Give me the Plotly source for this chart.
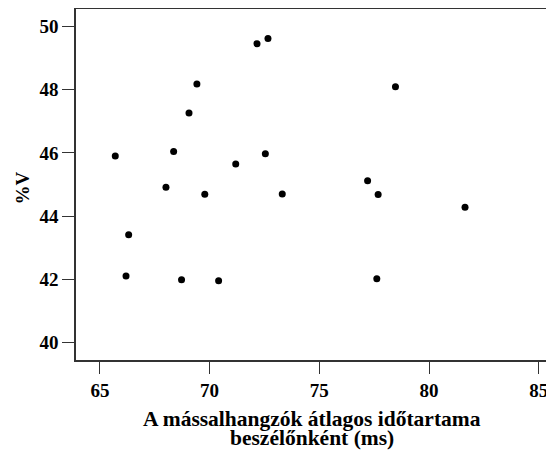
import plotly.graph_objects as go

x_vals = [65.70, 68.36, 68.01, 69.06, 69.42, 66.31, 66.19, 68.72, 72.16, 72.66,
          78.47, 72.54, 71.19, 69.78, 73.31, 77.20, 77.68, 70.41, 77.62, 81.64]
y_vals = [45.90, 46.04, 44.91, 47.26, 48.18, 43.41, 42.11, 41.99, 49.45, 49.62,
          48.09, 45.97, 45.65, 44.69, 44.70, 45.12, 44.68, 41.96, 42.02, 44.28]
x_ticks = [65, 70, 75, 80, 85]
y_ticks = [40, 42, 44, 46, 48, 50]
x_title_lines = ["A mássalhangzók átlagos időtartama", "beszélőnként (ms)"]
y_title = "%V"

font_family = "Liberation Serif"
tick_font = dict(family=font_family, size=19, color="black")
title_font = dict(family=font_family, size=21.5, color="black")

fig = go.Figure(go.Scatter(
    x=x_vals, y=y_vals, mode="markers",
    marker=dict(color="black", size=7),
    hoverinfo="x+y",
))

# the page body adds an 8px offset, so the figure is 8px smaller than the window
fig.update_layout(
    width=546, height=446,
    margin=dict(l=68, r=1, t=1, b=94),
    paper_bgcolor="white", plot_bgcolor="white",
    showlegend=False,
    font=dict(family=font_family, color="black"),
)
fig.update_xaxes(
    range=[63.91, 85.65], tickvals=x_ticks,
    ticktext=["<b>%d</b>" % v for v in x_ticks],
    ticks="outside", ticklen=12,
    tickwidth=1.3, tickcolor="#333", showline=True, linecolor="#333", linewidth=1.5,
    mirror=True, showgrid=False, zeroline=False, automargin=False,
    tickfont=tick_font,
)
fig.update_yaxes(
    range=[39.45, 50.55], tickvals=y_ticks,
    ticktext=["<b>%d</b>" % v for v in y_ticks],
    ticks="outside", ticklen=12,
    tickwidth=1.3, tickcolor="#333", showline=True, linecolor="#333", linewidth=1.5,
    showgrid=False, zeroline=False, automargin=False,
    tickfont=tick_font,
)
for line, ypos in zip(x_title_lines, [-0.1667, -0.2236]):
    fig.add_annotation(
        text="<b>" + line + "</b>", xref="paper", yref="paper", x=0.495, y=ypos,
        xanchor="center", yanchor="middle", showarrow=False, font=title_font,
    )
fig.add_annotation(
    text="<b>" + y_title + "</b>", xref="paper", yref="paper", x=-0.1132, y=0.4886,
    xanchor="center", yanchor="middle", showarrow=False, textangle=-90,
    font=dict(family=font_family, size=19, color="black"),
)

fig.write_html("out.html")
